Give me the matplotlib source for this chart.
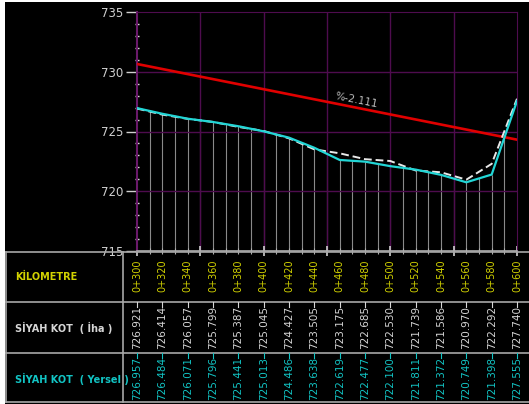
import numpy as np
import matplotlib
matplotlib.use('Agg')
import matplotlib.pyplot as plt
from matplotlib.transforms import blended_transform_factory
from matplotlib.ticker import MultipleLocator

plt.rcParams['font.family'] = ['DejaVu Sans']

# istasyonlar ve kotlar
stations = [300, 320, 340, 360, 380, 400, 420, 440, 460, 480, 500, 520, 540, 560, 580, 600]
km_labels = ['0+300', '0+320', '0+340', '0+360', '0+380', '0+400', '0+420', '0+440',
             '0+460', '0+480', '0+500', '0+520', '0+540', '0+560', '0+580', '0+600']
iha_kot = [726.921, 726.414, 726.057, 725.799, 725.387, 725.045, 724.427, 723.505,
           723.175, 722.685, 722.530, 721.739, 721.586, 720.970, 722.292, 727.740]
yersel_kot = [726.957, 726.484, 726.071, 725.796, 725.441, 725.013, 724.486, 723.638,
              722.619, 722.477, 722.100, 721.811, 721.372, 720.749, 721.398, 727.555]
grade_start = 730.65
grade_pct = -2.111
y_ticks = [715, 720, 725, 730, 735]

W, H = 529, 404
fig = plt.figure(figsize=(W / 100, H / 100), dpi=100, facecolor='white')

def fx(p):
    return p / W

def fy(p):
    return 1 - p / H

# siyah zemin
fig.add_artist(plt.Rectangle((fx(5), 0), 1 - fx(5), fy(2), transform=fig.transFigure,
                             facecolor='black', edgecolor='none', zorder=0))

ax = fig.add_axes([fx(137), fy(251), fx(517) - fx(137), fy(12) - fy(251)])
ax.set_facecolor('black')
ax.set_xlim(300, 600)
ax.set_ylim(715, 735)

purple = '#4e0c4e'
grey = '#b0b0b0'

# izgara
for yv in [720, 725, 730]:
    ax.axhline(yv, color=purple, lw=1, zorder=1)
for xv in [350, 400, 450, 500, 550]:
    ax.axvline(xv, color=purple, lw=1, zorder=1)

# dusey cizgiler (arazi -> taban)
xs = np.arange(310, 600, 10)
tops = np.interp(xs, stations, yersel_kot)
ax.vlines(xs, 715, tops, color='#8a8a8a', lw=0.8, zorder=0.5)

# proje hatti
end_y = grade_start + grade_pct / 100 * (stations[-1] - stations[0])
ax.plot([stations[0], stations[-1]], [grade_start, end_y], color='#e00000', lw=1.9, zorder=3)
lx = 473
ly = grade_start + grade_pct / 100 * (lx - stations[0]) + 0.65
ang = np.degrees(np.arctan2(grade_pct / 100, 1))
ax.text(lx, ly, '%-2.111', color='#bdbdbd', fontsize=7.5, ha='center', va='center',
        rotation=ang, transform_rotates_text=True, rotation_mode='anchor', zorder=4)

ax.plot(stations, iha_kot, color='#e8e8e8', lw=1.4, ls=(0, (4, 2)), zorder=3)
ax.plot(stations, yersel_kot, color='#22d6d6', lw=1.6, zorder=3.5)

# eksenler
for s in ['top', 'right']:
    ax.spines[s].set_color(purple)
ax.spines['left'].set_color('#6a1a6a')
ax.spines['left'].set_linewidth(1.5)
ax.spines['bottom'].set_color(grey)
ax.spines['bottom'].set_linewidth(1.2)

ax.set_yticks(y_ticks)
ax.yaxis.set_minor_locator(MultipleLocator(1))
ax.tick_params(axis='y', which='major', direction='out', length=8, width=1, color='#cfcfcf',
               labelcolor='#cfcfcf', labelsize=8.5, pad=2)
ax.tick_params(axis='y', which='minor', direction='inout', length=3, width=1, color='#dddddd')
ax.xaxis.set_major_locator(MultipleLocator(50))
ax.xaxis.set_minor_locator(MultipleLocator(10))
ax.tick_params(axis='x', which='major', direction='inout', length=7, width=1.2, color='#cfcfcf',
               labelbottom=False)
ax.tick_params(axis='x', which='minor', direction='inout', length=5, width=0.8, color=grey)

# tablo
line_c = '#a8a8a8'
for yp in [252, 302, 353, 402]:
    fig.add_artist(plt.Line2D([fx(6), 1], [fy(yp), fy(yp)], transform=fig.transFigure,
                              color=line_c, lw=1.2))
for xp in [6, 123]:
    fig.add_artist(plt.Line2D([fx(xp), fx(xp)], [fy(252), fy(402)], transform=fig.transFigure,
                              color=line_c, lw=1.2))

yellow = '#d2d200'
light = '#d6d6d6'
cyan = '#12c4c4'
fig.text(fx(15), fy(277), 'KİLOMETRE', color=yellow, fontsize=7, fontweight='bold',
         ha='left', va='center')
fig.text(fx(15), fy(328), 'SİYAH KOT  ( İha )', color=light, fontsize=7, fontweight='bold',
         ha='left', va='center')
fig.text(fx(15), fy(379), 'SİYAH KOT  ( Yersel )', color=cyan, fontsize=7, fontweight='bold',
         ha='left', va='center')

tr = blended_transform_factory(ax.transData, fig.transFigure)
for st, km, v1, v2 in zip(stations, km_labels, iha_kot, yersel_kot):
    fig.text(st, fy(259), km, transform=tr, color=yellow, fontsize=7, rotation=90,
             ha='center', va='top')
    fig.add_artist(plt.Line2D([st, st], [fy(302), fy(307)], transform=tr, color=light, lw=0.8))
    fig.text(st, fy(306), '%.3f' % v1, transform=tr, color=light, fontsize=7.5, rotation=90,
             ha='center', va='top')
    fig.add_artist(plt.Line2D([st, st], [fy(353), fy(358)], transform=tr, color=cyan, lw=0.8))
    fig.text(st, fy(357), '%.3f' % v2, transform=tr, color=cyan, fontsize=7.5, rotation=90,
             ha='center', va='top')

fig.savefig('out.png', dpi=100, facecolor=fig.get_facecolor())
